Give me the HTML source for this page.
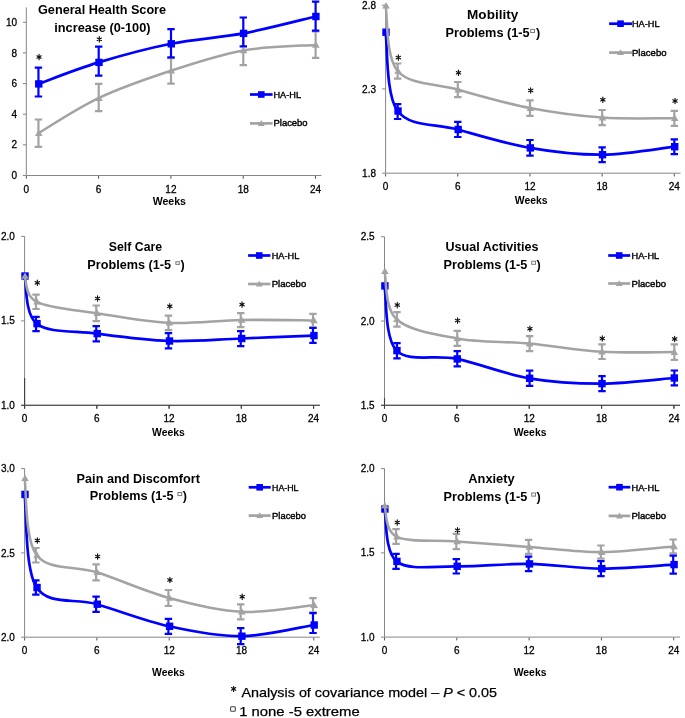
<!DOCTYPE html>
<html><head><meta charset="utf-8"><style>
html,body{margin:0;padding:0;background:#fff;}
svg{display:block;will-change:transform;filter:blur(0.3px);}
text{font-family:"Liberation Sans",sans-serif;fill:#000;}
.t{font-size:10px;stroke:#000;stroke-width:0.28px;}
.wk{font-size:10.6px;font-weight:bold;}
.ti{font-size:12px;font-weight:bold;}
.lg{font-size:9.6px;stroke:#000;stroke-width:0.4px;}
.ft{font-size:13.4px;stroke:#000;stroke-width:0.25px;}
</style></head><body>
<svg width="685" height="718" viewBox="0 0 685 718">
<rect width="685" height="718" fill="#fff"/>
<g>
<path d="M26.3,7.4V175.5M26.3,175.5H321.5M22.8,175.5H26.3M22.8,144.85H26.3M22.8,114.2H26.3M22.8,83.6H26.3M22.8,52.9H26.3M22.8,22.3H26.3" fill="none" stroke="#868686" stroke-width="1"/>
<path d="M26.3,176V178.8M98.6,176V178.8M170.9,176V178.8M243.2,176V178.8M315.5,176V178.8" fill="none" stroke="#555" stroke-width="1"/>
<text x="17.1" y="179.1" text-anchor="end" class="t">0</text>
<text x="17.1" y="148.45" text-anchor="end" class="t">2</text>
<text x="17.1" y="117.8" text-anchor="end" class="t">4</text>
<text x="17.1" y="87.2" text-anchor="end" class="t">6</text>
<text x="17.1" y="56.5" text-anchor="end" class="t">8</text>
<text x="17.1" y="25.9" text-anchor="end" class="t">10</text>
<text x="26.3" y="192.6" text-anchor="middle" class="t">0</text>
<text x="98.6" y="192.6" text-anchor="middle" class="t">6</text>
<text x="170.9" y="192.6" text-anchor="middle" class="t">12</text>
<text x="243.2" y="192.6" text-anchor="middle" class="t">18</text>
<text x="315.5" y="192.6" text-anchor="middle" class="t">24</text>
<text x="152.7" y="205" class="wk" textLength="33.3" lengthAdjust="spacingAndGlyphs">Weeks</text>
<path d="M38.45,119.5V146.8M34.75,119.5h7.4M34.75,146.8h7.4M98.7,83.9V111.2M95,83.9h7.4M95,111.2h7.4M171,58.2V83.7M167.3,58.2h7.4M167.3,83.7h7.4M243.3,35.8V65.2M239.6,35.8h7.4M239.6,65.2h7.4M315.6,31.5V57.8M311.9,31.5h7.4M311.9,57.8h7.4" fill="none" stroke="#a3a3a3" stroke-width="2.2"/>
<path d="M38.45,67.7V96.5M34.75,67.7h7.4M34.75,96.5h7.4M98.7,46.7V75.7M95,46.7h7.4M95,75.7h7.4M171,29.1V57.3M167.3,29.1h7.4M167.3,57.3h7.4M243.3,17.5V46.3M239.6,17.5h7.4M239.6,46.3h7.4M315.6,1.7V30.7M311.9,1.7h7.4M311.9,30.7h7.4" fill="none" stroke="#0000ff" stroke-width="2.2"/>
<path d="M38.35,83.9 C48.39,80.32 76.51,69.08 98.6,62.4 C120.69,55.72 146.8,48.63 170.9,43.8 C195,38.97 219.1,37.95 243.2,33.4 C267.3,28.85 303.45,19.32 315.5,16.5" fill="none" stroke="#0000ff" stroke-width="2.7" stroke-linejoin="round"/>
<rect x="35.05" y="80.2" width="7.4" height="7.4" fill="#0000ff"/>
<rect x="95.3" y="58.7" width="7.4" height="7.4" fill="#0000ff"/>
<rect x="167.6" y="40.1" width="7.4" height="7.4" fill="#0000ff"/>
<rect x="239.9" y="29.7" width="7.4" height="7.4" fill="#0000ff"/>
<rect x="312.2" y="12.8" width="7.4" height="7.4" fill="#0000ff"/>
<path d="M38.35,133.2 C48.39,127.35 76.51,108.5 98.6,98.1 C120.69,87.7 146.8,78.73 170.9,70.8 C195,62.87 219.1,54.82 243.2,50.5 C267.3,46.18 303.45,45.83 315.5,44.9" fill="none" stroke="#a3a3a3" stroke-width="2.55" stroke-linejoin="round"/>
<path d="M38.75,129.6l3.8,6.4h-7.6z" fill="#a3a3a3"/>
<path d="M99,94.5l3.8,6.4h-7.6z" fill="#a3a3a3"/>
<path d="M171.3,67.2l3.8,6.4h-7.6z" fill="#a3a3a3"/>
<path d="M243.6,46.9l3.8,6.4h-7.6z" fill="#a3a3a3"/>
<path d="M315.9,41.3l3.8,6.4h-7.6z" fill="#a3a3a3"/>
<path d="M39.05,54.3v5.4M36.9,55.75l4.3,2.5M36.9,58.25l4.3,-2.5M99.3,36.6v5.4M97.15,38.05l4.3,2.5M97.15,40.55l4.3,-2.5" fill="none" stroke="#111" stroke-width="1.15" stroke-linecap="round"/>
<text x="38" y="14.3" class="ti" textLength="128.1" lengthAdjust="spacingAndGlyphs">General Health Score</text>
<text x="54.3" y="31.7" class="ti" textLength="96.2" lengthAdjust="spacingAndGlyphs">increase (0-100)</text>
<path d="M250,94.5H272.6" stroke="#0000ff" stroke-width="2.7"/>
<rect x="258" y="91.2" width="6.6" height="6.6" fill="#0000ff"/>
<path d="M250,123.4H272.6" stroke="#a3a3a3" stroke-width="2.7"/>
<path d="M261.3,120.1l3.4,5.8h-6.8z" fill="#a3a3a3"/>
<text x="273.5" y="97.9" class="lg" textLength="27.5" lengthAdjust="spacingAndGlyphs">HA-HL</text>
<text x="273.5" y="126.2" class="lg" textLength="34.1" lengthAdjust="spacingAndGlyphs">Placebo</text>
</g>
<g>
<path d="M385.6,5V173.2M385.6,173.2H680.5M382.1,173.2H385.6M382.1,88.9H385.6M382.1,5.2H385.6" fill="none" stroke="#868686" stroke-width="1"/>
<path d="M385.6,173.7V176.5M457.78,173.7V176.5M529.96,173.7V176.5M602.14,173.7V176.5M674.32,173.7V176.5" fill="none" stroke="#555" stroke-width="1"/>
<text x="376" y="176.8" text-anchor="end" class="t">1.8</text>
<text x="376" y="92.5" text-anchor="end" class="t">2.3</text>
<text x="376" y="8.8" text-anchor="end" class="t">2.8</text>
<text x="385.6" y="190.3" text-anchor="middle" class="t">0</text>
<text x="457.78" y="190.3" text-anchor="middle" class="t">6</text>
<text x="529.96" y="190.3" text-anchor="middle" class="t">12</text>
<text x="602.14" y="190.3" text-anchor="middle" class="t">18</text>
<text x="674.32" y="190.3" text-anchor="middle" class="t">24</text>
<text x="514.8" y="204.2" class="wk" textLength="32.8" lengthAdjust="spacingAndGlyphs">Weeks</text>
<path d="M397.63,63.5V78.6M393.93,63.5h7.4M393.93,78.6h7.4M457.78,82V97.2M454.08,82h7.4M454.08,97.2h7.4M529.96,100.3V115.9M526.26,100.3h7.4M526.26,115.9h7.4M602.14,110V125.1M598.44,110h7.4M598.44,125.1h7.4M674.32,110.8V125.9M670.62,110.8h7.4M670.62,125.9h7.4" fill="none" stroke="#a3a3a3" stroke-width="2.2"/>
<path d="M397.63,104.1V119M393.93,104.1h7.4M393.93,119h7.4M457.78,121.8V137M454.08,121.8h7.4M454.08,137h7.4M529.96,140V155.6M526.26,140h7.4M526.26,155.6h7.4M602.14,147.3V162.2M598.44,147.3h7.4M598.44,162.2h7.4M674.32,139.3V154.2M670.62,139.3h7.4M670.62,154.2h7.4" fill="none" stroke="#0000ff" stroke-width="2.2"/>
<path d="M385.6,32.2 C387.61,45.33 385.6,94.78 397.63,111 C409.66,127.22 435.73,123.35 457.78,129.5 C479.84,135.65 505.9,143.7 529.96,147.9 C554.02,152.1 578.08,154.9 602.14,154.7 C626.2,154.5 662.29,148.03 674.32,146.7" fill="none" stroke="#0000ff" stroke-width="2.7" stroke-linejoin="round"/>
<rect x="382.3" y="28.5" width="7.4" height="7.4" fill="#0000ff"/>
<rect x="394.33" y="107.3" width="7.4" height="7.4" fill="#0000ff"/>
<rect x="454.48" y="125.8" width="7.4" height="7.4" fill="#0000ff"/>
<rect x="526.66" y="144.2" width="7.4" height="7.4" fill="#0000ff"/>
<rect x="598.84" y="151" width="7.4" height="7.4" fill="#0000ff"/>
<rect x="671.02" y="143" width="7.4" height="7.4" fill="#0000ff"/>
<path d="M385.6,5.6 C387.61,16.5 385.6,57 397.63,71 C409.66,85 435.73,83.42 457.78,89.6 C479.84,95.78 505.9,103.43 529.96,108.1 C554.02,112.77 578.08,115.92 602.14,117.6 C626.2,119.28 662.29,118.1 674.32,118.2" fill="none" stroke="#a3a3a3" stroke-width="2.55" stroke-linejoin="round"/>
<path d="M386,2l3.8,6.4h-7.6z" fill="#a3a3a3"/>
<path d="M398.03,67.4l3.8,6.4h-7.6z" fill="#a3a3a3"/>
<path d="M458.18,86l3.8,6.4h-7.6z" fill="#a3a3a3"/>
<path d="M530.36,104.5l3.8,6.4h-7.6z" fill="#a3a3a3"/>
<path d="M602.54,114l3.8,6.4h-7.6z" fill="#a3a3a3"/>
<path d="M674.72,114.6l3.8,6.4h-7.6z" fill="#a3a3a3"/>
<path d="M398.33,54.9v5.4M396.18,56.35l4.3,2.5M396.18,58.85l4.3,-2.5M458.48,70.1v5.4M456.33,71.55l4.3,2.5M456.33,74.05l4.3,-2.5M530.66,87.7v5.4M528.51,89.15l4.3,2.5M528.51,91.65l4.3,-2.5M602.84,97v5.4M600.69,98.45l4.3,2.5M600.69,100.95l4.3,-2.5M675.02,98.2v5.4M672.87,99.65l4.3,2.5M672.87,102.15l4.3,-2.5" fill="none" stroke="#111" stroke-width="1.15" stroke-linecap="round"/>
<text x="467.1" y="19.4" class="ti" textLength="51.1" lengthAdjust="spacingAndGlyphs">Mobility</text>
<text x="445.5" y="36.9" class="ti" textLength="84.1" lengthAdjust="spacingAndGlyphs">Problems (1-5</text>
<rect x="530.7" y="29.4" width="3.8" height="3.1" fill="none" stroke="#7a7a7a" stroke-width="1"/>
<text x="535.9" y="36.9" class="ti" textLength="4.2" lengthAdjust="spacingAndGlyphs">)</text>
<path d="M609.1,23.7H632" stroke="#0000ff" stroke-width="2.7"/>
<rect x="617.25" y="20.4" width="6.6" height="6.6" fill="#0000ff"/>
<path d="M609.1,52.6H632" stroke="#a3a3a3" stroke-width="2.7"/>
<path d="M620.55,49.3l3.4,5.8h-6.8z" fill="#a3a3a3"/>
<text x="632" y="26.9" class="lg" textLength="27.5" lengthAdjust="spacingAndGlyphs">HA-HL</text>
<text x="632" y="55.5" class="lg" textLength="34.5" lengthAdjust="spacingAndGlyphs">Placebo</text>
</g>
<g>
<path d="M24.6,236.4V405.3M24.6,405.3H319.9M21.1,405.3H24.6M21.1,320.85H24.6M21.1,236.4H24.6" fill="none" stroke="#868686" stroke-width="1"/>
<path d="M24.6,405.8V408.6M96.84,405.8V408.6M169.08,405.8V408.6M241.32,405.8V408.6M313.56,405.8V408.6" fill="none" stroke="#555" stroke-width="1"/>
<path d="M24.6,378V408.8M21.1,405.3H319.9M96.84,405.3V408.8M169.08,405.3V408.8M241.32,405.3V408.8M313.56,405.3V408.8" fill="none" stroke="#404040" stroke-width="1.1"/>
<text x="14.9" y="408.9" text-anchor="end" class="t">1.0</text>
<text x="14.9" y="324.45" text-anchor="end" class="t">1.5</text>
<text x="14.9" y="240" text-anchor="end" class="t">2.0</text>
<text x="24.6" y="422.2" text-anchor="middle" class="t">0</text>
<text x="96.84" y="422.2" text-anchor="middle" class="t">6</text>
<text x="169.08" y="422.2" text-anchor="middle" class="t">12</text>
<text x="241.32" y="422.2" text-anchor="middle" class="t">18</text>
<text x="313.56" y="422.2" text-anchor="middle" class="t">24</text>
<text x="152" y="435.9" class="wk" textLength="32.8" lengthAdjust="spacingAndGlyphs">Weeks</text>
<path d="M36.04,294.6V309M32.34,294.6h7.4M32.34,309h7.4M96.24,305.5V321.2M92.54,305.5h7.4M92.54,321.2h7.4M168.48,315.6V330.1M164.78,315.6h7.4M164.78,330.1h7.4M240.72,313.1V327.2M237.02,313.1h7.4M237.02,327.2h7.4M312.96,313.8V327.2M309.26,313.8h7.4M309.26,327.2h7.4" fill="none" stroke="#a3a3a3" stroke-width="2.2"/>
<path d="M36.04,316.8V331.2M32.34,316.8h7.4M32.34,331.2h7.4M96.24,326.1V341.3M92.54,326.1h7.4M92.54,341.3h7.4M168.48,333.1V348.3M164.78,333.1h7.4M164.78,348.3h7.4M240.72,331.2V346.1M237.02,331.2h7.4M237.02,346.1h7.4M312.96,328V342.9M309.26,328h7.4M309.26,342.9h7.4" fill="none" stroke="#0000ff" stroke-width="2.2"/>
<path d="M24.6,276 C26.61,283.93 24.6,314 36.64,323.6 C48.68,333.2 74.77,330.7 96.84,333.6 C118.91,336.5 145,340.18 169.08,341 C193.16,341.82 217.24,339.4 241.32,338.5 C265.4,337.6 301.52,336.08 313.56,335.6" fill="none" stroke="#0000ff" stroke-width="2.7" stroke-linejoin="round"/>
<rect x="21.3" y="272.3" width="7.4" height="7.4" fill="#0000ff"/>
<rect x="33.34" y="319.9" width="7.4" height="7.4" fill="#0000ff"/>
<rect x="93.54" y="329.9" width="7.4" height="7.4" fill="#0000ff"/>
<rect x="165.78" y="337.3" width="7.4" height="7.4" fill="#0000ff"/>
<rect x="238.02" y="334.8" width="7.4" height="7.4" fill="#0000ff"/>
<rect x="310.26" y="331.9" width="7.4" height="7.4" fill="#0000ff"/>
<path d="M24.6,276 C26.61,280.3 24.6,295.6 36.64,301.8 C48.68,308 74.77,309.7 96.84,313.2 C118.91,316.7 145,321.67 169.08,322.8 C193.16,323.93 217.24,320.4 241.32,320 C265.4,319.6 301.52,320.33 313.56,320.4" fill="none" stroke="#a3a3a3" stroke-width="2.55" stroke-linejoin="round"/>
<path d="M25,272.4l3.8,6.4h-7.6z" fill="#a3a3a3"/>
<path d="M37.04,298.2l3.8,6.4h-7.6z" fill="#a3a3a3"/>
<path d="M97.24,309.6l3.8,6.4h-7.6z" fill="#a3a3a3"/>
<path d="M169.48,319.2l3.8,6.4h-7.6z" fill="#a3a3a3"/>
<path d="M241.72,316.4l3.8,6.4h-7.6z" fill="#a3a3a3"/>
<path d="M313.96,316.8l3.8,6.4h-7.6z" fill="#a3a3a3"/>
<path d="M37.34,280.1v5.4M35.19,281.55l4.3,2.5M35.19,284.05l4.3,-2.5M97.54,295.8v5.4M95.39,297.25l4.3,2.5M95.39,299.75l4.3,-2.5M169.78,303.6v5.4M167.63,305.05l4.3,2.5M167.63,307.55l4.3,-2.5M242.02,301.9v5.4M239.87,303.35l4.3,2.5M239.87,305.85l4.3,-2.5" fill="none" stroke="#111" stroke-width="1.15" stroke-linecap="round"/>
<text x="108.8" y="251.4" class="ti" textLength="53.4" lengthAdjust="spacingAndGlyphs">Self Care</text>
<text x="87.3" y="268.9" class="ti" textLength="83.7" lengthAdjust="spacingAndGlyphs">Problems (1-5</text>
<rect x="175.9" y="261.7" width="3.4" height="2.7" fill="none" stroke="#7a7a7a" stroke-width="1"/>
<text x="180.5" y="268.9" class="ti" textLength="4.2" lengthAdjust="spacingAndGlyphs">)</text>
<path d="M248.1,255.5H270.4" stroke="#0000ff" stroke-width="2.7"/>
<rect x="255.95" y="252.2" width="6.6" height="6.6" fill="#0000ff"/>
<path d="M248.1,284H270.4" stroke="#a3a3a3" stroke-width="2.7"/>
<path d="M259.25,280.7l3.4,5.8h-6.8z" fill="#a3a3a3"/>
<text x="271.7" y="258.5" class="lg" textLength="27.6" lengthAdjust="spacingAndGlyphs">HA-HL</text>
<text x="271.7" y="287" class="lg" textLength="34.5" lengthAdjust="spacingAndGlyphs">Placebo</text>
</g>
<g>
<path d="M384.5,236.8V405.3M384.5,405.3H680M381,405.3H384.5M381,321.05H384.5M381,236.8H384.5" fill="none" stroke="#868686" stroke-width="1"/>
<path d="M384.5,405.8V408.6M456.86,405.8V408.6M529.22,405.8V408.6M601.58,405.8V408.6M673.94,405.8V408.6" fill="none" stroke="#555" stroke-width="1"/>
<path d="M384.5,398V408.8M381,405.3H680M456.86,405.3V408.8M529.22,405.3V408.8M601.58,405.3V408.8M673.94,405.3V408.8" fill="none" stroke="#404040" stroke-width="1.1"/>
<text x="374.7" y="408.9" text-anchor="end" class="t">1.5</text>
<text x="374.7" y="324.65" text-anchor="end" class="t">2.0</text>
<text x="374.7" y="240.4" text-anchor="end" class="t">2.5</text>
<text x="384.5" y="422.2" text-anchor="middle" class="t">0</text>
<text x="456.86" y="422.2" text-anchor="middle" class="t">6</text>
<text x="529.22" y="422.2" text-anchor="middle" class="t">12</text>
<text x="601.58" y="422.2" text-anchor="middle" class="t">18</text>
<text x="673.94" y="422.2" text-anchor="middle" class="t">24</text>
<text x="513.7" y="435.9" class="wk" textLength="32.8" lengthAdjust="spacingAndGlyphs">Weeks</text>
<path d="M396.96,312.2V326.7M393.26,312.2h7.4M393.26,326.7h7.4M457.26,330.9V345.9M453.56,330.9h7.4M453.56,345.9h7.4M529.62,336.1V351.2M525.92,336.1h7.4M525.92,351.2h7.4M601.98,344.4V359M598.28,344.4h7.4M598.28,359h7.4M674.34,344.4V359.8M670.64,344.4h7.4M670.64,359.8h7.4" fill="none" stroke="#a3a3a3" stroke-width="2.2"/>
<path d="M396.96,343.1V358.3M393.26,343.1h7.4M393.26,358.3h7.4M457.26,351.2V366.4M453.56,351.2h7.4M453.56,366.4h7.4M529.62,370.6V385.8M525.92,370.6h7.4M525.92,385.8h7.4M601.98,376.1V391.2M598.28,376.1h7.4M598.28,391.2h7.4M674.34,370.5V385.4M670.64,370.5h7.4M670.64,385.4h7.4" fill="none" stroke="#0000ff" stroke-width="2.2"/>
<path d="M384.5,285.9 C386.51,296.68 384.5,338.43 396.56,350.6 C408.62,362.77 434.75,354.28 456.86,358.9 C478.97,363.52 505.1,374.18 529.22,378.3 C553.34,382.42 577.46,383.65 601.58,383.6 C625.7,383.55 661.88,378.93 673.94,378" fill="none" stroke="#0000ff" stroke-width="2.7" stroke-linejoin="round"/>
<rect x="381.2" y="282.2" width="7.4" height="7.4" fill="#0000ff"/>
<rect x="393.26" y="346.9" width="7.4" height="7.4" fill="#0000ff"/>
<rect x="453.56" y="355.2" width="7.4" height="7.4" fill="#0000ff"/>
<rect x="525.92" y="374.6" width="7.4" height="7.4" fill="#0000ff"/>
<rect x="598.28" y="379.9" width="7.4" height="7.4" fill="#0000ff"/>
<rect x="670.64" y="374.3" width="7.4" height="7.4" fill="#0000ff"/>
<path d="M384.5,271.2 C386.51,279.22 384.5,308.1 396.56,319.3 C408.62,330.5 434.75,334.35 456.86,338.4 C478.97,342.45 505.1,341.38 529.22,343.6 C553.34,345.82 577.46,350.28 601.58,351.7 C625.7,353.12 661.88,352.03 673.94,352.1" fill="none" stroke="#a3a3a3" stroke-width="2.55" stroke-linejoin="round"/>
<path d="M384.9,267.6l3.8,6.4h-7.6z" fill="#a3a3a3"/>
<path d="M396.96,315.7l3.8,6.4h-7.6z" fill="#a3a3a3"/>
<path d="M457.26,334.8l3.8,6.4h-7.6z" fill="#a3a3a3"/>
<path d="M529.62,340l3.8,6.4h-7.6z" fill="#a3a3a3"/>
<path d="M601.98,348.1l3.8,6.4h-7.6z" fill="#a3a3a3"/>
<path d="M674.34,348.5l3.8,6.4h-7.6z" fill="#a3a3a3"/>
<path d="M397.26,302.4v5.4M395.11,303.85l4.3,2.5M395.11,306.35l4.3,-2.5M457.56,317.9v5.4M455.41,319.35l4.3,2.5M455.41,321.85l4.3,-2.5M529.92,326v5.4M527.77,327.45l4.3,2.5M527.77,329.95l4.3,-2.5M602.28,335.7v5.4M600.13,337.15l4.3,2.5M600.13,339.65l4.3,-2.5M674.64,336.2v5.4M672.49,337.65l4.3,2.5M672.49,340.15l4.3,-2.5" fill="none" stroke="#111" stroke-width="1.15" stroke-linecap="round"/>
<text x="445.5" y="250.9" class="ti" textLength="92.9" lengthAdjust="spacingAndGlyphs">Usual Activities</text>
<text x="443.6" y="268.9" class="ti" textLength="83.7" lengthAdjust="spacingAndGlyphs">Problems (1-5</text>
<rect x="531.7" y="261.2" width="3.8" height="3.1" fill="none" stroke="#7a7a7a" stroke-width="1"/>
<text x="536.5" y="268.9" class="ti" textLength="4.2" lengthAdjust="spacingAndGlyphs">)</text>
<path d="M608.2,255.5H630.2" stroke="#0000ff" stroke-width="2.7"/>
<rect x="615.9" y="252.2" width="6.6" height="6.6" fill="#0000ff"/>
<path d="M608.2,283.5H630.2" stroke="#a3a3a3" stroke-width="2.7"/>
<path d="M619.2,280.2l3.4,5.8h-6.8z" fill="#a3a3a3"/>
<text x="631.6" y="258.6" class="lg" textLength="27.6" lengthAdjust="spacingAndGlyphs">HA-HL</text>
<text x="631.6" y="287" class="lg" textLength="34.4" lengthAdjust="spacingAndGlyphs">Placebo</text>
</g>
<g>
<path d="M24.6,468.6V637.2M24.6,637.2H319.9M21.1,637.2H24.6M21.1,552.9H24.6M21.1,468.6H24.6" fill="none" stroke="#868686" stroke-width="1"/>
<path d="M24.6,637.7V640.5M96.9,637.7V640.5M169.2,637.7V640.5M241.5,637.7V640.5M313.8,637.7V640.5" fill="none" stroke="#555" stroke-width="1"/>
<text x="14.9" y="640.8" text-anchor="end" class="t">2.0</text>
<text x="14.9" y="556.5" text-anchor="end" class="t">2.5</text>
<text x="14.9" y="472.2" text-anchor="end" class="t">3.0</text>
<text x="24.6" y="654" text-anchor="middle" class="t">0</text>
<text x="96.9" y="654" text-anchor="middle" class="t">6</text>
<text x="169.2" y="654" text-anchor="middle" class="t">12</text>
<text x="241.5" y="654" text-anchor="middle" class="t">18</text>
<text x="313.8" y="654" text-anchor="middle" class="t">24</text>
<text x="152" y="676.1" class="wk" textLength="32.8" lengthAdjust="spacingAndGlyphs">Weeks</text>
<path d="M35.85,548V562.5M32.15,548h7.4M32.15,562.5h7.4M96.1,564.4V580.3M92.4,564.4h7.4M92.4,580.3h7.4M168.4,590V606M164.7,590h7.4M164.7,606h7.4M240.7,604.3V619.4M237,604.3h7.4M237,619.4h7.4M313,598.2V612.3M309.3,598.2h7.4M309.3,612.3h7.4" fill="none" stroke="#a3a3a3" stroke-width="2.2"/>
<path d="M35.85,580.3V594.7M32.15,580.3h7.4M32.15,594.7h7.4M96.1,596.6V611.8M92.4,596.6h7.4M92.4,611.8h7.4M168.4,618.8V633.8M164.7,618.8h7.4M164.7,633.8h7.4M240.7,628.2V644.1M237,628.2h7.4M237,644.1h7.4M313,613.2V633M309.3,613.2h7.4M309.3,633h7.4" fill="none" stroke="#0000ff" stroke-width="2.2"/>
<path d="M24.6,494.4 C26.61,509.92 24.6,569.2 36.65,587.5 C48.7,605.8 74.81,597.73 96.9,604.2 C118.99,610.67 145.1,620.97 169.2,626.3 C193.3,631.63 217.4,636.42 241.5,636.2 C265.6,635.98 301.75,626.87 313.8,625" fill="none" stroke="#0000ff" stroke-width="2.7" stroke-linejoin="round"/>
<rect x="21.3" y="490.7" width="7.4" height="7.4" fill="#0000ff"/>
<rect x="33.35" y="583.8" width="7.4" height="7.4" fill="#0000ff"/>
<rect x="93.6" y="600.5" width="7.4" height="7.4" fill="#0000ff"/>
<rect x="165.9" y="622.6" width="7.4" height="7.4" fill="#0000ff"/>
<rect x="238.2" y="632.5" width="7.4" height="7.4" fill="#0000ff"/>
<rect x="310.5" y="621.3" width="7.4" height="7.4" fill="#0000ff"/>
<path d="M24.6,478.2 C26.61,491.03 24.6,539.52 36.65,555.2 C48.7,570.88 74.81,565.17 96.9,572.3 C118.99,579.43 145.1,591.42 169.2,598 C193.3,604.58 217.4,610.6 241.5,611.8 C265.6,613 301.75,606.3 313.8,605.2" fill="none" stroke="#a3a3a3" stroke-width="2.55" stroke-linejoin="round"/>
<path d="M25,474.6l3.8,6.4h-7.6z" fill="#a3a3a3"/>
<path d="M37.05,551.6l3.8,6.4h-7.6z" fill="#a3a3a3"/>
<path d="M97.3,568.7l3.8,6.4h-7.6z" fill="#a3a3a3"/>
<path d="M169.6,594.4l3.8,6.4h-7.6z" fill="#a3a3a3"/>
<path d="M241.9,608.2l3.8,6.4h-7.6z" fill="#a3a3a3"/>
<path d="M314.2,601.6l3.8,6.4h-7.6z" fill="#a3a3a3"/>
<path d="M37.35,537.7v5.4M35.2,539.15l4.3,2.5M35.2,541.65l4.3,-2.5M97.6,553.8v5.4M95.45,555.25l4.3,2.5M95.45,557.75l4.3,-2.5M169.9,577.2v5.4M167.75,578.65l4.3,2.5M167.75,581.15l4.3,-2.5M242.2,594v5.4M240.05,595.45l4.3,2.5M240.05,597.95l4.3,-2.5" fill="none" stroke="#111" stroke-width="1.15" stroke-linecap="round"/>
<text x="76.6" y="483" class="ti" textLength="123.4" lengthAdjust="spacingAndGlyphs">Pain and Discomfort</text>
<text x="89.8" y="500.2" class="ti" textLength="83.7" lengthAdjust="spacingAndGlyphs">Problems (1-5</text>
<rect x="177.9" y="492.5" width="3.8" height="3.1" fill="none" stroke="#7a7a7a" stroke-width="1"/>
<text x="182.7" y="500.2" class="ti" textLength="4.2" lengthAdjust="spacingAndGlyphs">)</text>
<path d="M248.7,487.3H270.7" stroke="#0000ff" stroke-width="2.7"/>
<rect x="256.4" y="484" width="6.6" height="6.6" fill="#0000ff"/>
<path d="M248.7,515.6H270.7" stroke="#a3a3a3" stroke-width="2.7"/>
<path d="M259.7,512.3l3.4,5.8h-6.8z" fill="#a3a3a3"/>
<text x="272.1" y="490.5" class="lg" textLength="26.4" lengthAdjust="spacingAndGlyphs">HA-HL</text>
<text x="272.1" y="519" class="lg" textLength="33.9" lengthAdjust="spacingAndGlyphs">Placebo</text>
</g>
<g>
<path d="M384.5,468.6V637.1M384.5,637.1H680M381,637.1H384.5M381,552.85H384.5M381,468.6H384.5" fill="none" stroke="#868686" stroke-width="1"/>
<path d="M384.5,637.6V640.4M456.8,637.6V640.4M529.1,637.6V640.4M601.4,637.6V640.4M673.7,637.6V640.4" fill="none" stroke="#555" stroke-width="1"/>
<text x="374.7" y="640.7" text-anchor="end" class="t">1.0</text>
<text x="374.7" y="556.45" text-anchor="end" class="t">1.5</text>
<text x="374.7" y="472.2" text-anchor="end" class="t">2.0</text>
<text x="384.5" y="654" text-anchor="middle" class="t">0</text>
<text x="456.8" y="654" text-anchor="middle" class="t">6</text>
<text x="529.1" y="654" text-anchor="middle" class="t">12</text>
<text x="601.4" y="654" text-anchor="middle" class="t">18</text>
<text x="673.7" y="654" text-anchor="middle" class="t">24</text>
<text x="513.7" y="675.7" class="wk" textLength="32.8" lengthAdjust="spacingAndGlyphs">Weeks</text>
<path d="M396.05,529.2V543.9M392.35,529.2h7.4M392.35,543.9h7.4M456.3,533.8V549.2M452.6,533.8h7.4M452.6,549.2h7.4M528.6,539.9V553.9M524.9,539.9h7.4M524.9,553.9h7.4M600.9,545.5V558.7M597.2,545.5h7.4M597.2,558.7h7.4M673.2,539.5V553.4M669.5,539.5h7.4M669.5,553.4h7.4" fill="none" stroke="#a3a3a3" stroke-width="2.2"/>
<path d="M396.05,553.9V568.9M392.35,553.9h7.4M392.35,568.9h7.4M456.3,559.1V573.5M452.6,559.1h7.4M452.6,573.5h7.4M528.6,556.7V571.2M524.9,556.7h7.4M524.9,571.2h7.4M600.9,561.2V576.1M597.2,561.2h7.4M597.2,576.1h7.4M673.2,555.6V573.7M669.5,555.6h7.4M669.5,573.7h7.4" fill="none" stroke="#0000ff" stroke-width="2.2"/>
<path d="M384.5,509 C386.51,517.73 384.5,551.85 396.55,561.4 C408.6,570.95 434.71,565.88 456.8,566.3 C478.89,566.72 505,563.52 529.1,563.9 C553.2,564.28 577.3,568.48 601.4,568.6 C625.5,568.72 661.65,565.27 673.7,564.6" fill="none" stroke="#0000ff" stroke-width="2.7" stroke-linejoin="round"/>
<rect x="381.2" y="505.3" width="7.4" height="7.4" fill="#0000ff"/>
<rect x="393.25" y="557.7" width="7.4" height="7.4" fill="#0000ff"/>
<rect x="453.5" y="562.6" width="7.4" height="7.4" fill="#0000ff"/>
<rect x="525.8" y="560.2" width="7.4" height="7.4" fill="#0000ff"/>
<rect x="598.1" y="564.9" width="7.4" height="7.4" fill="#0000ff"/>
<rect x="670.4" y="560.9" width="7.4" height="7.4" fill="#0000ff"/>
<path d="M384.5,505.5 C386.51,510.68 384.5,530.6 396.55,536.6 C408.6,542.6 434.71,539.78 456.8,541.5 C478.89,543.22 505,545.13 529.1,546.9 C553.2,548.67 577.3,552.18 601.4,552.1 C625.5,552.02 661.65,547.35 673.7,546.4" fill="none" stroke="#a3a3a3" stroke-width="2.55" stroke-linejoin="round"/>
<path d="M384.9,501.9l3.8,6.4h-7.6z" fill="#a3a3a3"/>
<path d="M396.95,533l3.8,6.4h-7.6z" fill="#a3a3a3"/>
<path d="M457.2,537.9l3.8,6.4h-7.6z" fill="#a3a3a3"/>
<path d="M529.5,543.3l3.8,6.4h-7.6z" fill="#a3a3a3"/>
<path d="M601.8,548.5l3.8,6.4h-7.6z" fill="#a3a3a3"/>
<path d="M674.1,542.8l3.8,6.4h-7.6z" fill="#a3a3a3"/>
<path d="M397.25,519.8v5.4M395.1,521.25l4.3,2.5M395.1,523.75l4.3,-2.5M457.5,527.5v5.4M455.35,528.95l4.3,2.5M455.35,531.45l4.3,-2.5" fill="none" stroke="#111" stroke-width="1.15" stroke-linecap="round"/>
<text x="468.3" y="483" class="ti" textLength="46.4" lengthAdjust="spacingAndGlyphs">Anxiety</text>
<text x="443.6" y="500.7" class="ti" textLength="83.7" lengthAdjust="spacingAndGlyphs">Problems (1-5</text>
<rect x="531.7" y="493" width="3.8" height="3.1" fill="none" stroke="#7a7a7a" stroke-width="1"/>
<text x="536.5" y="500.7" class="ti" textLength="4.2" lengthAdjust="spacingAndGlyphs">)</text>
<path d="M608.6,487.2H630.3" stroke="#0000ff" stroke-width="2.7"/>
<rect x="616.15" y="483.9" width="6.6" height="6.6" fill="#0000ff"/>
<path d="M608.6,515.9H630.3" stroke="#a3a3a3" stroke-width="2.7"/>
<path d="M619.45,512.6l3.4,5.8h-6.8z" fill="#a3a3a3"/>
<text x="631.5" y="490.6" class="lg" textLength="27.8" lengthAdjust="spacingAndGlyphs">HA-HL</text>
<text x="631.5" y="519" class="lg" textLength="34.5" lengthAdjust="spacingAndGlyphs">Placebo</text>
</g>
<path d="M233.6,686.5v4.9M231.5,687.6l4.2,2.6M231.5,690.2l4.2,-2.6" fill="none" stroke="#111" stroke-width="1.2" stroke-linecap="round"/>
<text x="241.5" y="696.5" class="ft" textLength="255.5" lengthAdjust="spacingAndGlyphs">Analysis of covariance model – <tspan font-style="italic">P</tspan> &lt; 0.05</text>
<rect x="230.6" y="706.7" width="4.7" height="4.5" rx="0.8" fill="none" stroke="#444" stroke-width="1.05"/>
<text x="239.2" y="715.9" class="ft" textLength="120.5" lengthAdjust="spacingAndGlyphs">1 none -5 extreme</text>
</svg>
</body></html>
